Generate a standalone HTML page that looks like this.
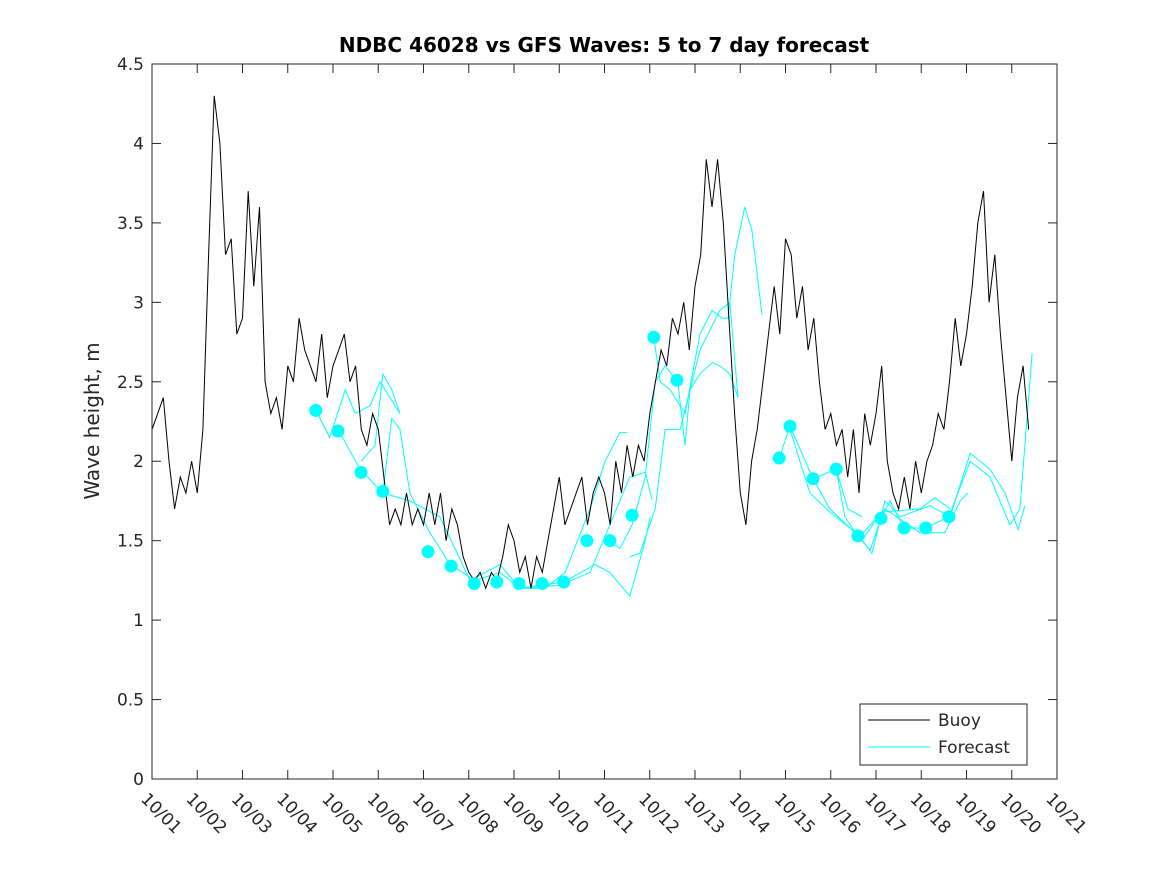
<!DOCTYPE html>
<html><head><meta charset="utf-8"><style>
body{margin:0;background:#fff;font-family:"Liberation Sans",sans-serif;}
svg text{font-family:"DejaVu Sans","Liberation Sans",sans-serif;fill:#262626;}
</style></head><body>
<svg id="chart" width="1167" height="875" viewBox="0 0 1167 875" xmlns="http://www.w3.org/2000/svg">
<rect x="0" y="0" width="1167" height="875" fill="#fff"/>
<text x="604" y="52" text-anchor="middle" font-size="20" font-weight="bold" style="fill:#000">NDBC 46028 vs GFS Waves: 5 to 7 day forecast</text>
<text transform="translate(99,421) rotate(-90)" text-anchor="middle" font-size="20">Wave height, m</text>
<g id="series"></g>
<rect x="152" y="64" width="905" height="715" fill="none" stroke="#262626" stroke-width="1"/>
<g id="axes"></g>
<g>
<rect x="860" y="704" width="167" height="61" fill="#fff" stroke="#262626" stroke-width="1"/>
<line x1="868" y1="720" x2="930" y2="720" stroke="#000" stroke-width="1"/>
<text x="938" y="726" font-size="17">Buoy</text>
<line x1="868" y1="747" x2="930" y2="747" stroke="#00ffff" stroke-width="1"/>
<text x="938" y="753" font-size="17">Forecast</text>
</g>
</svg>
<script>
const xTickLabels=["10/01","10/02","10/03","10/04","10/05","10/06","10/07","10/08","10/09","10/10","10/11","10/12","10/13","10/14","10/15","10/16","10/17","10/18","10/19","10/20","10/21"];
const yTickValues=[0,0.5,1,1.5,2,2.5,3,3.5,4,4.5];
const yTickLabels=["0","0.5","1","1.5","2","2.5","3","3.5","4","4.5"];
const buoyStartDay=0;
const buoyStepDay=0.125;
const buoyValues=[
2.2,2.3,2.4,2.0,1.7,1.9,1.8,2.0,
1.8,2.2,3.3,4.3,4.0,3.3,3.4,2.8,
2.9,3.7,3.1,3.6,2.5,2.3,2.4,2.2,
2.6,2.5,2.9,2.7,2.6,2.5,2.8,2.4,
2.6,2.7,2.8,2.5,2.6,2.2,2.1,2.3,
2.2,1.9,1.6,1.7,1.6,1.8,1.6,1.7,
1.6,1.8,1.6,1.8,1.5,1.7,1.6,1.4,
1.3,1.25,1.3,1.2,1.3,1.25,1.4,1.6,
1.5,1.3,1.4,1.2,1.4,1.3,1.5,1.7,
1.9,1.6,1.7,1.8,1.9,1.6,1.8,1.9,
1.8,1.6,2.0,1.8,2.1,1.9,2.1,2.0,
2.3,2.5,2.7,2.6,2.9,2.8,3.0,2.7,
3.1,3.3,3.9,3.6,3.9,3.5,2.9,2.3,
1.8,1.6,2.0,2.2,2.5,2.8,3.1,2.8,
3.4,3.3,2.9,3.1,2.7,2.9,2.5,2.2,
2.3,2.1,2.2,1.9,2.2,1.8,2.3,2.1,
2.3,2.6,2.0,1.8,1.7,1.9,1.7,2.0,
1.8,2.0,2.1,2.3,2.2,2.5,2.9,2.6,
2.8,3.1,3.5,3.7,3.0,3.3,2.8,2.4,
2.0,2.4,2.6,2.2];
const markerDays=[3.62,4.11,4.62,5.10,6.10,6.61,7.12,7.62,8.11,8.62,9.10,9.61,10.12,10.61,11.09,11.60,13.86,14.10,14.61,15.12,15.60,16.11,16.62,17.10,17.61];
const markerValues=[2.32,2.19,1.93,1.81,1.43,1.34,1.23,1.24,1.23,1.23,1.24,1.50,1.50,1.66,2.78,2.51,2.02,2.22,1.89,1.95,1.53,1.64,1.58,1.58,1.65];
const fcA_days=[3.62,3.93,4.27,4.49,4.82,5.04,5.26,5.48];
const fcA_vals=[2.32,2.15,2.45,2.3,2.35,2.5,2.4,2.3];
const fcA2_days=[4.62,4.93,5.10,5.30,5.48];
const fcA2_vals=[2.0,2.1,2.55,2.45,2.3];
const fcB_days=[4.11,4.60,5.10,5.30,5.48,5.70,6.14,6.59,7.14,7.69,8.13,8.69,9.13,9.68,10.01,10.34,10.50];
const fcB_vals=[2.2,1.95,1.8,2.27,2.2,1.8,1.55,1.35,1.25,1.3,1.2,1.2,1.3,1.7,2.0,2.18,2.18];
const fcC_days=[5.10,5.70,6.36,7.03,7.69,8.13,9.02,9.68,10.12,10.56,10.90,11.05];
const fcC_vals=[1.8,1.75,1.65,1.25,1.35,1.2,1.22,1.3,1.6,1.9,1.93,1.76];
const fcD_days=[8.11,9.10,9.79,10.12,10.56,10.90,11.01];
const fcD_vals=[1.2,1.24,1.35,1.3,1.15,1.5,1.65];
const fcE_days=[10.56,10.78,11.12,11.34,11.67,12.11,12.55,12.77,12.95];
const fcE_vals=[1.4,1.42,1.7,2.2,2.2,2.7,2.95,3.0,2.4];
const fcF_days=[11.09,11.23,11.45,11.78,12.11,12.38,12.60,12.73,12.88,13.10,13.26,13.48];
const fcF_vals=[2.78,2.5,2.45,2.3,2.8,2.95,2.9,2.9,3.3,3.6,3.45,2.92];
const fcG_days=[10.12,10.34,10.61,10.90,11.12,11.34,11.62,11.78,11.89,12.11,12.38,12.55,12.77,12.95];
const fcG_vals=[1.5,1.45,1.6,1.9,2.5,2.6,2.5,2.1,2.45,2.55,2.62,2.6,2.55,2.4];
const fcH_days=[13.86,14.10,14.61,15.12,15.31,15.60,15.87,16.11,16.31,16.62,17.10,17.61,18.08,18.52,18.96,19.18,19.45];
const fcH_vals=[2.02,2.22,1.89,1.95,1.65,1.53,1.44,1.64,1.75,1.58,1.58,1.65,2.0,1.9,1.6,1.7,2.68];
const fcI_days=[14.61,14.98,15.65,15.91,16.20,16.53,17.19,17.64,18.08,18.52,18.85,19.14,19.29];
const fcI_vals=[1.89,1.7,1.52,1.42,1.75,1.65,1.72,1.65,2.05,1.95,1.8,1.57,1.72];
const fcJ_days=[14.10,14.54,14.98,15.65,16.20,16.97,17.52,17.86,18.03];
const fcJ_vals=[2.2,1.8,1.68,1.53,1.7,1.55,1.55,1.75,1.8];
const fcK_days=[15.12,15.38,15.69];
const fcK_vals=[1.95,1.7,1.65];
const fcL_days=[15.69,16.11,16.97,17.30,17.64];
const fcL_vals=[1.5,1.68,1.7,1.77,1.7];

const NS="http://www.w3.org/2000/svg";
const X0=152,X1=1057,Y0=779,Y1=64;
function xs(d){return X0+(X1-X0)*d/20;}
function ys(v){return Y0-(Y0-Y1)*v/4.5;}
const series=document.getElementById('series');
const axes=document.getElementById('axes');
function poly(days,vals,color,name){
  const p=document.createElementNS(NS,'polyline');
  p.setAttribute('points',days.map((d,i)=>xs(d).toFixed(1)+','+ys(vals[i]).toFixed(1)).join(' '));
  p.setAttribute('fill','none');p.setAttribute('stroke',color);p.setAttribute('stroke-width','1');
  
  
  series.appendChild(p);
}
const fcs=[[fcA_days,fcA_vals],[fcA2_days,fcA2_vals],[fcB_days,fcB_vals],[fcC_days,fcC_vals],[fcD_days,fcD_vals],[fcE_days,fcE_vals],[fcF_days,fcF_vals],[fcG_days,fcG_vals],[fcH_days,fcH_vals],[fcI_days,fcI_vals],[fcJ_days,fcJ_vals],[fcK_days,fcK_vals],[fcL_days,fcL_vals]];
fcs.forEach(f=>poly(f[0],f[1],'#00ffff','forecast-line'));
const bDays=buoyValues.map((v,i)=>buoyStartDay+i*buoyStepDay);
poly(bDays,buoyValues,'#000','buoy-line');
markerDays.forEach((d,i)=>{
  const c=document.createElementNS(NS,'circle');
  c.setAttribute('cx',xs(d));c.setAttribute('cy',ys(markerValues[i]));c.setAttribute('r','6.5');
  c.setAttribute('fill','#00ffff');
  
  
  series.appendChild(c);
});
xTickLabels.forEach((l,i)=>{
  const x=xs(i);
  const t1=document.createElementNS(NS,'line');
  t1.setAttribute('x1',x);t1.setAttribute('x2',x);t1.setAttribute('y1',Y0);t1.setAttribute('y2',Y0-9);t1.setAttribute('stroke','#262626');
  axes.appendChild(t1);
  const t2=document.createElementNS(NS,'line');
  t2.setAttribute('x1',x);t2.setAttribute('x2',x);t2.setAttribute('y1',Y1);t2.setAttribute('y2',Y1+9);t2.setAttribute('stroke','#262626');
  axes.appendChild(t2);
  const t=document.createElementNS(NS,'text');
  t.setAttribute('transform','translate('+(x-12)+','+(800)+') rotate(45)');
  t.setAttribute('font-size','17');
  t.textContent=l;
  
  
  axes.appendChild(t);
});
yTickValues.forEach((v,i)=>{
  const y=ys(v);
  const a=document.createElementNS(NS,'line');
  a.setAttribute('x1',X0);a.setAttribute('x2',X0+9);a.setAttribute('y1',y);a.setAttribute('y2',y);a.setAttribute('stroke','#262626');
  axes.appendChild(a);
  const b=document.createElementNS(NS,'line');
  b.setAttribute('x1',X1);b.setAttribute('x2',X1-9);b.setAttribute('y1',y);b.setAttribute('y2',y);b.setAttribute('stroke','#262626');
  axes.appendChild(b);
  const t=document.createElementNS(NS,'text');
  t.setAttribute('x',X0-8);t.setAttribute('y',y+6);t.setAttribute('text-anchor','end');t.setAttribute('font-size','17');
  t.textContent=yTickLabels[i];
  
  
  axes.appendChild(t);
});
</script>
</body></html>
